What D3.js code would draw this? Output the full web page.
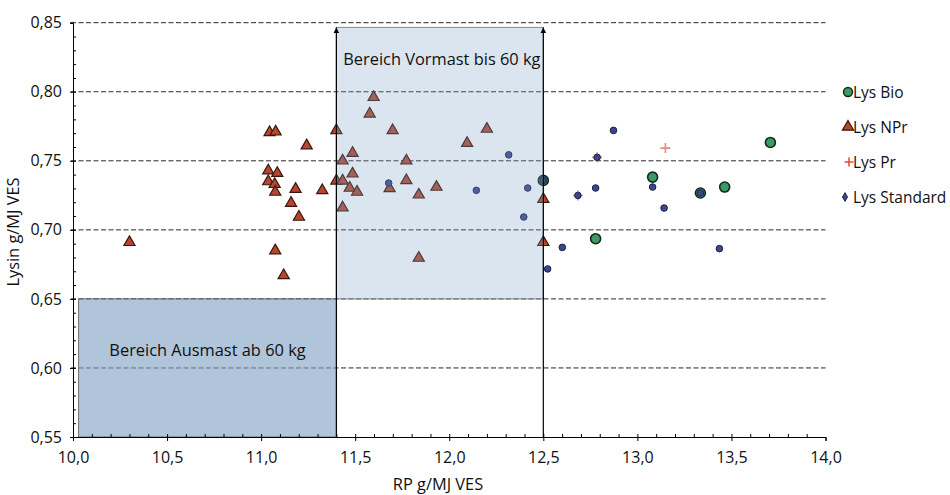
<!DOCTYPE html>
<html>
<head>
<meta charset="utf-8">
<script src="https://cdn.jsdelivr.net/npm/d3@7"></script>
<style>
  body { margin: 0; background: #fff; }
  text { font-family: "Open Sans", sans-serif; fill: #111; }
</style>
</head>
<body>
<div id="chart-div"></div>
<script>
// Messwerte [RP g/MJ VES, Lysin g/MJ VES]
var lysBio = [[13.707,0.7633],[13.081,0.7382],[13.464,0.731],[13.335,0.7267],[12.778,0.6936],[12.50,0.7358]];
var lysNPr = [[10.30,0.691],[11.045,0.7705],[11.077,0.771],[11.242,0.761],[11.038,0.7428],[11.086,0.741],
  [11.038,0.735],[11.072,0.733],[11.075,0.7274],[11.183,0.7295],[11.325,0.7285],[11.159,0.7194],
  [11.201,0.7093],[11.075,0.685],[11.12,0.667],[11.838,0.6796],[11.40,0.772],[11.433,0.750],
  [11.40,0.7355],[11.433,0.7355],[11.433,0.716],[11.598,0.796],[11.577,0.784],[11.699,0.772],
  [11.486,0.7556],[11.772,0.750],[11.486,0.7406],[11.471,0.7303],[11.51,0.7274],[11.683,0.730],
  [11.772,0.7358],[11.838,0.7254],[11.932,0.731],[12.20,0.773],[12.095,0.7628],[12.50,0.7222],[12.50,0.691]];
var lysPr = [[13.149,0.7592],[12.786,0.7525],[12.684,0.7249]];
var lysStandard = [[13.081,0.731],[13.142,0.7158],[13.436,0.6864],[12.873,0.772],[12.786,0.7525],
  [12.778,0.7303],[12.684,0.7249],[12.601,0.6873],[12.523,0.6717],[12.316,0.7543],[12.144,0.7286],
  [12.417,0.7303],[12.396,0.7093],[12.50,0.7358],[11.678,0.7339],[13.335,0.7267]];

var xTicks = [10.0,10.5,11.0,11.5,12.0,12.5,13.0,13.5,14.0];
var yTicks = [0.55,0.60,0.65,0.70,0.75,0.80,0.85];
var legendNames = ["Lys Bio","Lys NPr","Lys Pr","Lys Standard"];

// Bereiche: [x0, x1, y0, y1]
var ausmast = [10.03, 11.4, 0.55, 0.65];
var vormast = [11.4, 12.5, 0.65, 0.8466];

var width = 950, height = 495;
var svg = d3.select('#chart-div').append('svg')
    .attr('width', width).attr('height', height);

var x = d3.scaleLinear().domain([10, 14]).range([73, 825.5]);
var y = d3.scaleLinear().domain([0.55, 0.85]).range([437, 22.7]);
var comma = function(f) { return function(d) { return d3.format(f)(d).replace('.', ','); }; };

// Gitterlinien
svg.append('g').selectAll('line')
    .data(yTicks.slice(1))
    .enter().append('line')
    .attr('x1', x(10) - 2).attr('x2', x(14))
    .attr('y1', function(d) { return y(d); }).attr('y2', function(d) { return y(d); })
    .attr('stroke', '#2a2a2a').attr('stroke-width', 1).attr('stroke-dasharray', '5,2.5');

// Punkte
var triangle = d3.symbol().type(d3.symbolTriangle).size(54);
svg.append('g').selectAll('path')
    .data(lysNPr).enter().append('path')
    .attr('d', triangle)
    .attr('transform', function(d) { return 'translate(' + x(d[0]) + ',' + y(d[1]) + ')'; })
    .attr('fill', '#b5472e').attr('stroke', '#3a160c').attr('stroke-width', 1.2);

svg.append('g').selectAll('path')
    .data(lysPr).enter().append('path')
    .attr('transform', function(d) { return 'translate(' + x(d[0]) + ',' + y(d[1]) + ')'; })
    .attr('d', 'M-5,0H5M0,-5V5')
    .attr('stroke', '#e48a78').attr('stroke-width', 1.6).attr('fill', 'none');

svg.append('g').selectAll('circle')
    .data(lysBio).enter().append('circle')
    .attr('cx', function(d) { return x(d[0]); })
    .attr('cy', function(d) { return y(d[1]); })
    .attr('r', 5)
    .attr('fill', '#3d9a64').attr('stroke', '#0f2a1c').attr('stroke-width', 1.6);

svg.append('g').selectAll('circle')
    .data(lysStandard).enter().append('circle')
    .attr('cx', function(d) { return x(d[0]); })
    .attr('cy', function(d) { return y(d[1]); })
    .attr('r', 3.3)
    .attr('fill', '#3c4689').attr('stroke', '#1c2050').attr('stroke-width', 1);

// Bereiche (halbtransparent ueber den Punkten)
svg.append('rect')
    .attr('x', x(ausmast[0])).attr('width', x(ausmast[1]) - x(ausmast[0]))
    .attr('y', y(ausmast[3])).attr('height', y(ausmast[2]) - y(ausmast[3]))
    .attr('fill', '#7fa0c4').attr('fill-opacity', 0.62)
    .attr('stroke', '#555').attr('stroke-width', 0.8);
svg.append('rect')
    .attr('x', x(vormast[0])).attr('width', x(vormast[1]) - x(vormast[0]))
    .attr('y', y(vormast[3])).attr('height', y(vormast[2]) - y(vormast[3]))
    .attr('fill', '#7fa0c4').attr('fill-opacity', 0.28)
    .attr('stroke', '#888').attr('stroke-width', 1);

// Pfeile
svg.append('defs').append('marker')
    .attr('id', 'arrow').attr('viewBox', '0 0 10 10')
    .attr('refX', 10).attr('refY', 5)
    .attr('markerWidth', 6).attr('markerHeight', 6)
    .attr('markerUnits', 'userSpaceOnUse')
    .attr('orient', 'auto')
  .append('path').attr('d', 'M0,0L10,5L0,10z').attr('fill', '#000');

svg.append('g').selectAll('line')
    .data([vormast[0], vormast[1]]).enter().append('line')
    .attr('x1', function(d) { return x(d); }).attr('x2', function(d) { return x(d); })
    .attr('y1', y(0.55)).attr('y2', y(vormast[3]))
    .attr('stroke', '#000').attr('stroke-width', 1.2)
    .attr('marker-end', 'url(#arrow)');

svg.append('text')
    .attr('x', (x(vormast[0]) + x(vormast[1])) / 2 + 2).attr('y', y(0.8194))
    .attr('text-anchor', 'middle').style('font-size', '16.4px')
    .text('Bereich Vormast bis 60 kg');
svg.append('text')
    .attr('x', (x(ausmast[0]) + x(ausmast[1])) / 2).attr('y', y(0.6085))
    .attr('text-anchor', 'middle').style('font-size', '16.4px')
    .text('Bereich Ausmast ab 60 kg');

// Achsen
svg.append('g').attr('transform', 'translate(0,' + y(0.55) + ')')
    .call(d3.axisBottom(x).tickValues(xTicks).tickSize(4).tickPadding(11).tickFormat(comma('.1f')));
svg.append('g').attr('transform', 'translate(0,' + y(0.55) + ')')
    .call(d3.axisBottom(x).tickValues(d3.range(101, 140).map(function(d) { return d / 10; })).tickSize(-3).tickFormat(''))
    .select('.domain').remove();
svg.append('g').attr('transform', 'translate(' + x(10) + ',0)')
    .call(d3.axisLeft(y).tickValues(yTicks).tickSize(3).tickPadding(8).tickFormat(comma('.2f')));
svg.append('g').attr('transform', 'translate(' + x(10) + ',0)')
    .call(d3.axisLeft(y).tickValues(d3.range(56, 85).map(function(d) { return d / 100; })).tickSize(-3).tickFormat(''))
    .select('.domain').remove();

svg.selectAll('.tick text').style('font-size', '16px').style('font-family', '"Open Sans", sans-serif').attr('fill', '#111');
svg.selectAll('.domain').attr('stroke', '#000');
svg.selectAll('.tick line').attr('stroke', '#000');

svg.append('text')
    .attr('x', 438).attr('y', 490)
    .attr('text-anchor', 'middle').style('font-size', '16.4px')
    .text('RP g/MJ VES');
svg.append('text')
    .attr('transform', 'translate(19,232) rotate(-90)')
    .attr('text-anchor', 'middle').style('font-size', '16.4px')
    .text('Lysin g/MJ VES');

// Legende
var legend = svg.append('g').attr('transform', 'translate(848,0)');
var ly = function(i) { return 92 + i * 35; };
legend.append('circle').attr('cx', 0).attr('cy', ly(0)).attr('r', 4.5)
    .attr('fill', '#3d9a64').attr('stroke', '#0f2a1c').attr('stroke-width', 1.4);
legend.append('path').attr('d', triangle).attr('transform', 'translate(0,' + ly(1) + ')')
    .attr('fill', '#b5472e').attr('stroke', '#3a160c').attr('stroke-width', 1.2);
legend.append('path').attr('d', 'M-4.5,0H4.5M0,-4.5V4.5').attr('transform', 'translate(1,' + ly(2) + ')')
    .attr('stroke', '#e0503a').attr('stroke-width', 1.6);
legend.append('path').attr('d', d3.symbol().type(d3.symbolDiamond).size(22)).attr('transform', 'translate(-3,' + ly(3) + ')')
    .attr('fill', '#3c4689').attr('stroke', '#1c2050').attr('stroke-width', 1);
legend.selectAll('.legend-labels')
    .data(legendNames).enter().append('text')
    .attr('class', 'legend-labels')
    .attr('x', 5).attr('y', function(d, i) { return ly(i) + 5.5; })
    .style('font-size', '15.5px')
    .text(function(d) { return d; });
</script>
</body>
</html>
